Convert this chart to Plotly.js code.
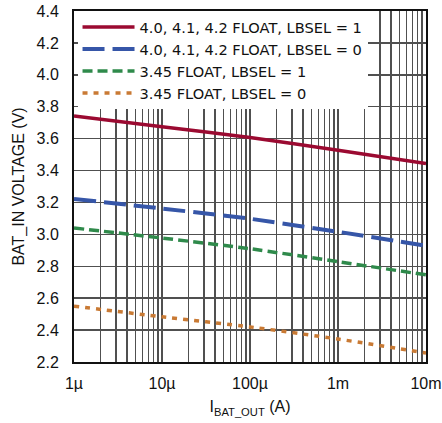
<!DOCTYPE html>
<html>
<head>
<meta charset="utf-8">
<script src="https://cdn.plot.ly/plotly-3.0.1.min.js"></script>
<style>html,body{margin:0;padding:0;background:#fff;}#chart{width:442px;height:423px;}</style>
</head>
<body>
<div id="chart"></div>
<script>
const current = [1e-6, 1e-5, 1e-4, 1e-3, 1e-2];
const seriesNames = ["4.0, 4.1, 4.2 FLOAT, LBSEL = 1", "4.0, 4.1, 4.2 FLOAT, LBSEL = 0", "3.45 FLOAT, LBSEL = 1", "3.45 FLOAT, LBSEL = 0"];
const float42_lb1 = [3.742, 3.675, 3.607, 3.527, 3.444];
const float42_lb0 = [3.222, 3.162, 3.098, 3.016, 2.929];
const float345_lb1 = [3.040, 2.977, 2.910, 2.829, 2.746];
const float345_lb0 = [2.550, 2.483, 2.420, 2.344, 2.256];
const xTickVals = [1e-6, 1e-5, 1e-4, 1e-3, 1e-2];
const xTickText = ["1µ", "10µ", "100µ", "1m", "10m"];
const yTickVals = [2.2, 2.4, 2.6, 2.8, 3.0, 3.2, 3.4, 3.6, 3.8, 4.0, 4.2, 4.4];

const FONT = "'Liberation Sans', Arial, sans-serif";
const LFONT = "'DejaVu Sans', 'Liberation Sans', sans-serif";
const styles = [
  {color: "#9b0a31", dash: "solid", width: 3.5},
  {color: "#3656a8", dash: "22px,8px", width: 4},
  {color: "#2f8a4b", dash: "10px,5px", width: 3.5},
  {color: "#c97a34", dash: "5px,6px", width: 3.5}
];
const ys = [float42_lb1, float42_lb0, float345_lb1, float345_lb0];
const data = ys.map((y, i) => ({
  x: current, y: y, type: "scatter", mode: "lines", name: seriesNames[i],
  line: {color: styles[i].color, dash: styles[i].dash, width: styles[i].width, shape: "spline", smoothing: 0.5}
}));

const gridColor = "#505050";
const layout = {
  width: 442, height: 423,
  margin: {l: 74, r: 16, t: 11, b: 61},
  paper_bgcolor: "#ffffff", plot_bgcolor: "#ffffff",
  font: {family: FONT, size: 16, color: "#111111"},
  showlegend: true,
  legend: {
    x: 0.01, y: 1.0, xanchor: "left", yanchor: "top",
    bgcolor: "#ffffff", borderwidth: 0,
    font: {family: LFONT, size: 14.6, color: "#111111"},
    itemwidth: 52, tracegroupgap: 0
  },
  xaxis: {
    type: "log", range: [-6, -2],
    tickvals: xTickVals, ticktext: xTickText,
    showgrid: true, gridcolor: gridColor, gridwidth: 1.5,
    minor: {showgrid: true, gridcolor: gridColor, gridwidth: 1.5, dtick: "D1"},
    showline: true, linecolor: "#111111", linewidth: 2, mirror: true,
    ticks: "", ticklabelstandoff: 6,
    tickfont: {family: FONT, size: 16, color: "#111111"},
    zeroline: false,
    title: {text: "I<sub>BAT_OUT</sub> (A)", font: {family: FONT, size: 16, color: "#111111"}, standoff: 10}
  },
  yaxis: {
    range: [2.2, 4.4], tickvals: yTickVals, ticktext: yTickVals.map(v => v.toFixed(1)),
    showgrid: true, gridcolor: gridColor, gridwidth: 1.5,
    showline: true, linecolor: "#111111", linewidth: 2, mirror: true,
    ticks: "", ticklabelstandoff: 10,
    tickfont: {family: FONT, size: 16, color: "#111111"},
    zeroline: false,
    title: {text: "BAT_IN VOLTAGE (V)", font: {family: FONT, size: 16, color: "#111111"}, standoff: 8}
  }
};
Plotly.newPlot("chart", data, layout, {displayModeBar: false, staticPlot: true});
</script>
</body>
</html>
